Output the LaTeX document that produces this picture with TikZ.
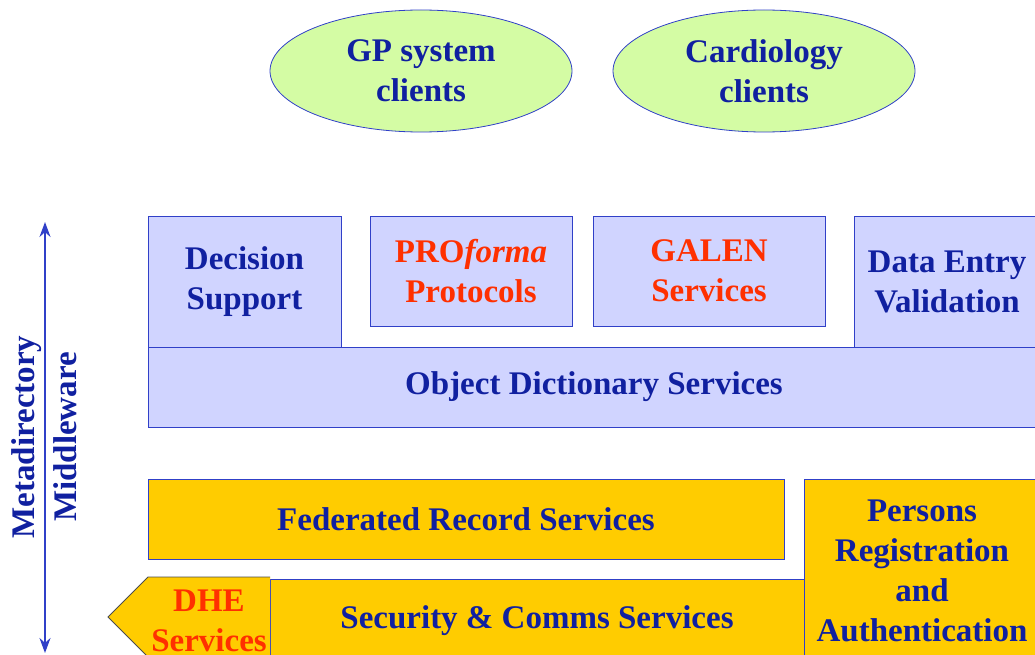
\documentclass[tikz,border=0pt]{standalone}
\usepackage{fontspec}
\setmainfont{Liberation Serif}
\usetikzlibrary{shapes,arrows.meta,positioning}
\definecolor{navy}{RGB}{16,32,160}
\definecolor{lav}{RGB}{208,212,255}
\definecolor{edge}{RGB}{48,64,200}
\definecolor{gold}{RGB}{255,204,0}
\definecolor{lime}{RGB}{212,252,164}
\definecolor{alert}{RGB}{255,48,0}

\begin{document}
\begin{tikzpicture}[
  x=1pt, y=-1pt,
  font=\fontsize{33}{40}\selectfont\bfseries,
  svc/.style={rectangle, draw=edge, line width=1pt, fill=lav, text=navy, align=center, inner sep=0pt},
  rec/.style={svc, fill=gold},
  client/.style={ellipse, draw=edge, line width=0.8pt, fill=lime, text=navy, align=center, inner sep=0pt},
  axis/.style={{Stealth[length=15pt,width=11pt]}-{Stealth[length=15pt,width=11pt]}, draw=edge, line width=1.5pt},
]
\useasboundingbox (0,0) rectangle (1035,655);
\clip (0,0) rectangle (1035,655);

% clients
\node[client, minimum width=302, minimum height=122] (gp) at (421,71) {GP system\\clients};
\node[client, minimum width=302, minimum height=122] (cardio) at (764,71) {Cardiology\\clients};

% knowledge layer
\node[svc, minimum width=193, minimum height=131] (decision) at (244.5,281.5) {Decision\\Support};
\node[svc, minimum width=202, minimum height=110, text=alert] (proforma) at (471,271) {PRO\textit{forma}\\Protocols};
\node[svc, minimum width=232, minimum height=110, text=alert] (galen) at (709,271) {GALEN\\Services};
\node[svc, minimum width=186, minimum height=131] (dataentry) at (947,281.5) {Data Entry\\Validation};
\node[svc, minimum width=892, minimum height=80] (objdict) at (594,387) {Object Dictionary Services};

% record layer
\node[rec, minimum width=636, minimum height=80] (federated) at (466,519) {Federated Record Services};
\node[rec, minimum width=236, minimum height=183] (persons) at (922,570.5) {Persons\\Registration\\and\\Authentication};
\node[rec, minimum width=534, minimum height=83] (security) at (537,620.5) {Security \& Comms Services};
\draw[draw=black!70, line width=0.8pt, fill=gold] (270,577) -- (148,577) -- (108,617) -- (151,660) -- (270,660);
\node[text=alert, align=center] (dhe) at (209,620.5) {DHE\\Services};

% middleware axis
\coordinate (axtop) at (45,222);
\coordinate (axbot) at (45,653);
\draw[axis] (axtop) -- (axbot);
\node[rotate=90, text=navy] (meta) at (27,437) {Metadirectory};
\node[rotate=90, text=navy] (middle) at (65,437) {Middleware};
\end{tikzpicture}
\end{document}
